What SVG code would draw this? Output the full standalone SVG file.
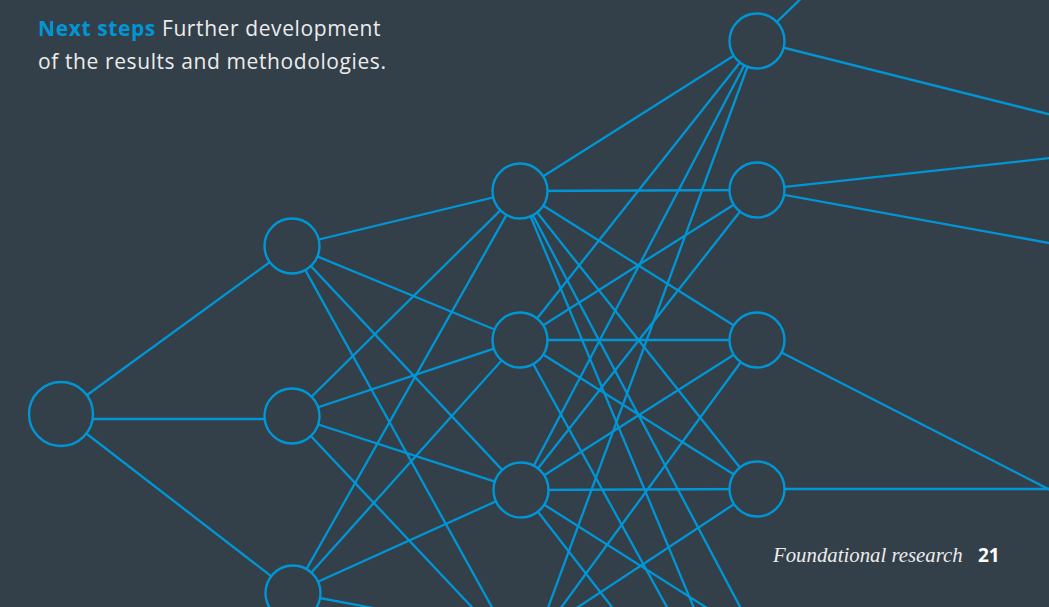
<svg xmlns="http://www.w3.org/2000/svg" width="1049" height="607" viewBox="0 0 1049 607">
  <style>
    .edge { stroke: #0096d6; stroke-width: 2.3; fill: none; }
    .node { stroke: #0096d6; stroke-width: 2.4; fill: #333f49; }
    .sans { font-family: "Open Sans", "Noto Sans", sans-serif; }
    .serif { font-family: "Liberation Serif", "DejaVu Serif", serif; font-style: italic; }
  </style>
  <rect x="0" y="0" width="1049" height="607" fill="#333f49"/>
  <g id="connectors">
    <!-- input to layer 1 -->
    <line class="edge" x1="61" y1="414" x2="292" y2="246"/>
    <line class="edge" x1="61" y1="419" x2="292" y2="419"/>
    <line class="edge" x1="61" y1="414" x2="293" y2="593"/>
    <!-- layer 1 to layer 2 -->
    <line class="edge" x1="292" y1="246" x2="520" y2="191"/>
    <line class="edge" x1="292" y1="246" x2="520" y2="340"/>
    <line class="edge" x1="292" y1="246" x2="521" y2="490"/>
    <line class="edge" x1="292" y1="246" x2="499" y2="620"/>
    <line class="edge" x1="292" y1="416" x2="520" y2="191"/>
    <line class="edge" x1="292" y1="416" x2="520" y2="340"/>
    <line class="edge" x1="292" y1="416" x2="521" y2="490"/>
    <line class="edge" x1="292" y1="416" x2="484" y2="620"/>
    <line class="edge" x1="293" y1="593" x2="520" y2="191"/>
    <line class="edge" x1="293" y1="593" x2="520" y2="340"/>
    <line class="edge" x1="293" y1="593" x2="521" y2="490"/>
    <line class="edge" x1="293" y1="593" x2="437" y2="620"/>
    <!-- layer 2 to layer 3 -->
    <line class="edge" x1="520" y1="191" x2="757" y2="41"/>
    <line class="edge" x1="520" y1="191" x2="757" y2="190"/>
    <line class="edge" x1="520" y1="191" x2="757" y2="340"/>
    <line class="edge" x1="520" y1="191" x2="757" y2="489"/>
    <line class="edge" x1="520" y1="191" x2="699" y2="620"/>
    <line class="edge" x1="520" y1="191" x2="747" y2="620"/>
    <line class="edge" x1="520" y1="340" x2="757" y2="41"/>
    <line class="edge" x1="520" y1="340" x2="757" y2="190"/>
    <line class="edge" x1="520" y1="340" x2="757" y2="340"/>
    <line class="edge" x1="520" y1="340" x2="757" y2="489"/>
    <line class="edge" x1="520" y1="340" x2="674" y2="620"/>
    <line class="edge" x1="521" y1="490" x2="757" y2="41"/>
    <line class="edge" x1="521" y1="490" x2="757" y2="190"/>
    <line class="edge" x1="521" y1="490" x2="757" y2="340"/>
    <line class="edge" x1="521" y1="490" x2="757" y2="489"/>
    <line class="edge" x1="521" y1="490" x2="622" y2="620"/>
    <line class="edge" x1="521" y1="490" x2="726" y2="620"/>
    <line class="edge" x1="757" y1="41" x2="543.5" y2="620"/>
    <line class="edge" x1="757" y1="340" x2="552" y2="620"/>
    <line class="edge" x1="757" y1="489" x2="558.5" y2="620"/>
    <!-- layer 3 to right -->
    <line class="edge" x1="757" y1="41" x2="812" y2="-12"/>
    <line class="edge" x1="757" y1="41" x2="1060" y2="117"/>
    <line class="edge" x1="757" y1="190" x2="1060" y2="157"/>
    <line class="edge" x1="757" y1="190" x2="1060" y2="245"/>
    <line class="edge" x1="757" y1="340" x2="1060" y2="495"/>
    <line class="edge" x1="757" y1="489" x2="1060" y2="489"/>
  </g>
  <g id="n0"><circle class="node" cx="61" cy="414" r="32"/></g>
  <g id="a1"><circle class="node" cx="292" cy="246" r="27.5"/></g>
  <g id="a2"><circle class="node" cx="292" cy="416" r="27.5"/></g>
  <g id="a3"><circle class="node" cx="293" cy="593" r="27.5"/></g>
  <g id="b1"><circle class="node" cx="520" cy="191" r="27.5"/></g>
  <g id="b2"><circle class="node" cx="520" cy="340" r="27.5"/></g>
  <g id="b3"><circle class="node" cx="521" cy="490" r="27.5"/></g>
  <g id="c1"><circle class="node" cx="757" cy="41" r="27.5"/></g>
  <g id="c2"><circle class="node" cx="757" cy="190" r="27.5"/></g>
  <g id="c3"><circle class="node" cx="757" cy="340" r="27.5"/></g>
  <g id="c4"><circle class="node" cx="757" cy="489" r="27.5"/></g>
  <g id="heading" class="sans" font-size="21" letter-spacing="0.6">
    <text x="38" y="36" fill="#ececec"><tspan fill="#0096d6" font-weight="bold">Next steps</tspan> Further development</text>
    <text x="38" y="69" fill="#ececec">of the results and methodologies.</text>
  </g>
  <g id="footer">
    <text class="serif" x="773" y="562" font-size="20.8" fill="#ececec">Foundational research</text>
    <text class="sans" x="978" y="562" font-size="19" font-weight="bold" fill="#ffffff">21</text>
  </g>
</svg>
